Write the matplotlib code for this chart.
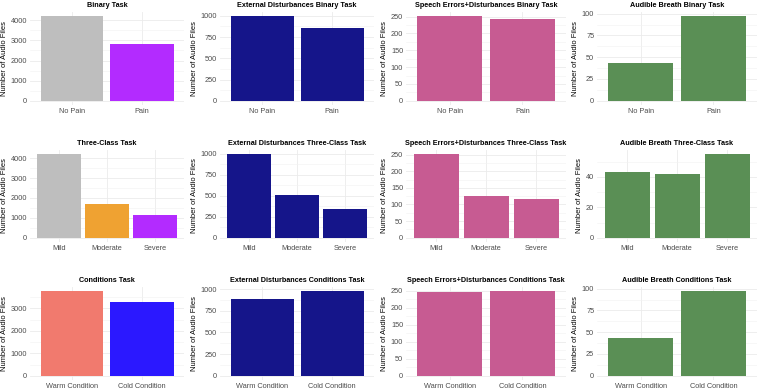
import matplotlib
matplotlib.use("Agg")
import matplotlib.pyplot as plt
import numpy as np

plt.rcParams['font.family'] = ['Liberation Sans', 'DejaVu Sans']

binary_labels = ["No Pain", "Pain"]
three_labels = ["Mild", "Moderate", "Severe"]
cond_labels = ["Warm Condition", "Cold Condition"]

binary_all = [4200, 2830]
binary_ext = [995, 860]
binary_speech = [251, 243]
binary_breath = [43, 97]

three_all = [4200, 1700, 1130]
three_ext = [995, 515, 345]
three_speech = [251, 127, 117]
three_breath = [43, 42, 55]

cond_all = [3760, 3280]
cond_ext = [880, 975]
cond_speech = [248, 249]
cond_breath = [43, 97]

GRAY = "#BEBEBE"
PURPLE = "#B32BFF"
ORANGE = "#EFA232"
NAVY = "#15158A"
PINK = "#C75B92"
GREEN = "#5A8F55"
SALMON = "#F17A6E"
BLUE = "#2B18FF"

panels = [
    # row 1
    ("Binary Task", binary_labels, binary_all, [GRAY, PURPLE], 1000),
    ("External Disturbances Binary Task", binary_labels, binary_ext, [NAVY] * 2, 250),
    ("Speech Errors+Disturbances Binary Task", binary_labels, binary_speech, [PINK] * 2, 50),
    ("Audible Breath Binary Task", binary_labels, binary_breath, [GREEN] * 2, 25),
    # row 2
    ("Three-Class Task", three_labels, three_all, [GRAY, ORANGE, PURPLE], 1000),
    ("External Disturbances Three-Class Task", three_labels, three_ext, [NAVY] * 3, 250),
    ("Speech Errors+Disturbances Three-Class Task", three_labels, three_speech, [PINK] * 3, 50),
    ("Audible Breath Three-Class Task", three_labels, three_breath, [GREEN] * 3, 20),
    # row 3
    ("Conditions Task", cond_labels, cond_all, [SALMON, BLUE], 1000),
    ("External Disturbances Conditions Task", cond_labels, cond_ext, [NAVY] * 2, 250),
    ("Speech Errors+Disturbances Conditions Task", cond_labels, cond_speech, [PINK] * 2, 50),
    ("Audible Breath Conditions Task", cond_labels, cond_breath, [GREEN] * 2, 25),
]

W, H = 760, 390
col_left = [30, 220, 406, 597]
col_right = [184, 374, 566, 757]
row_top = [12, 150, 287]
row_bottom = [105, 242, 380]

fig = plt.figure(figsize=(W / 100, H / 100), dpi=100)
fig.patch.set_facecolor("white")

for i, (title, labels, values, colors, step) in enumerate(panels):
    r, c = divmod(i, 4)
    ax = fig.add_axes([col_left[c] / W, 1 - row_bottom[r] / H,
                       (col_right[c] - col_left[c]) / W,
                       (row_bottom[r] - row_top[r]) / H])
    x = np.arange(1, len(labels) + 1)
    ax.bar(x, values, width=0.9, color=colors, zorder=2)
    vmax = max(values)
    ax.set_xlim(0.4, len(labels) + 0.6)
    ax.set_ylim(-0.05 * vmax, 1.05 * vmax)
    ticks = np.arange(0, 1.05 * vmax + 1e-9, step)
    minor = np.arange(step / 2, 1.05 * vmax, step)
    ax.set_yticks(ticks)
    ax.set_yticks(minor, minor=True)
    ax.set_xticks(x)
    ax.set_xticklabels(labels)
    ax.yaxis.set_major_formatter(matplotlib.ticker.FuncFormatter(lambda v, p: f"{int(v)}"))
    ax.grid(True, which="major", color="#EBEBEB", linewidth=0.6, zorder=0)
    ax.grid(True, which="minor", axis="y", color="#F2F2F2", linewidth=0.4, zorder=0)
    for s in ax.spines.values():
        s.set_visible(False)
    ax.tick_params(which="both", length=0, labelsize=5.3, colors="#4D4D4D", pad=2)
    ax.set_title(title, fontsize=5.2, fontweight="bold", pad=3.5)
    ax.set_ylabel("Number of Audio Files", fontsize=5.4, labelpad=2)

fig.savefig("out.png", dpi=100)
